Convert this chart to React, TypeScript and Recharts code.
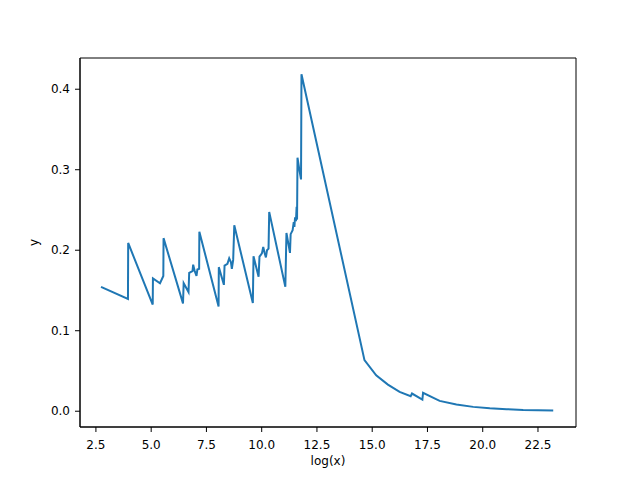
import React from 'react';
import { LineChart, Line, XAxis, YAxis, ReferenceArea } from 'recharts';

// values
const logX = [
  2.73, 3.95, 3.96, 5.07, 5.08, 5.40, 5.55, 5.56, 6.44, 6.47, 6.69, 6.72, 6.87, 6.90, 6.96, 7.05, 7.09, 7.17, 7.18,
  8.05, 8.06, 8.29, 8.32, 8.45, 8.53, 8.61, 8.65, 8.71, 8.76,
  9.60, 9.63, 9.86, 9.90, 10.01, 10.07, 10.13, 10.19, 10.24, 10.31, 10.34,
  11.07, 11.12, 11.28, 11.31, 11.40, 11.45, 11.48, 11.51, 11.55, 11.58, 11.60, 11.62, 11.71, 11.78, 11.80,
  14.65, 15.18, 15.71, 16.24, 16.74, 16.80, 17.27, 17.30, 18.05, 18.81, 19.57, 20.32, 21.08, 21.83, 23.19,
];
const yValues = [
  0.1544, 0.1395, 0.209, 0.1325, 0.165, 0.159, 0.168, 0.215, 0.134, 0.159, 0.148, 0.172, 0.174, 0.182, 0.175, 0.168, 0.176, 0.177, 0.223,
  0.130, 0.179, 0.157, 0.181, 0.183, 0.190, 0.185, 0.177, 0.188, 0.231,
  0.1345, 0.1925, 0.167, 0.192, 0.196, 0.204, 0.197, 0.191, 0.200, 0.202, 0.2476,
  0.1545, 0.2215, 0.1967, 0.220, 0.225, 0.235, 0.229, 0.241, 0.236, 0.254, 0.238, 0.315, 0.299, 0.288, 0.4186,
  0.0634, 0.0447, 0.0331, 0.024, 0.0186, 0.022, 0.0145, 0.0228, 0.0128, 0.0083, 0.0054, 0.0037, 0.0025, 0.0016, 0.0008,
];
const xTicks = [2.5, 5, 7.5, 10, 12.5, 15, 17.5, 20, 22.5];
const yTicks = [0, 0.1, 0.2, 0.3, 0.4];

const data = logX.map((x, i) => ({ x, y: yValues[i] }));

const xDomain: [number, number] = [1.78, 24.22];
const yDomain: [number, number] = [-0.0196, 0.4388];

const font = { fill: '#000', fontSize: 12, fontFamily: 'DejaVu Sans' };

export default function App() {
  return (
    <div style={{ position: 'absolute', left: 0, top: 0, background: '#fff', fontFamily: 'DejaVu Sans' }}>
      <LineChart width={640} height={480} data={data} margin={{ top: 58, right: 64, bottom: 0, left: 30 }}>
        <XAxis
          dataKey="x"
          type="number"
          domain={xDomain}
          ticks={xTicks}
          allowDataOverflow
          tickFormatter={(v: number) => v.toFixed(1)}
          tick={font}
          tickSize={5}
          tickMargin={8}
          stroke="#000"
          height={53}
          label={{ value: 'log(x)', position: 'insideBottom', offset: 15, ...font }}
        />
        <YAxis
          type="number"
          domain={yDomain}
          ticks={yTicks}
          allowDataOverflow
          tickFormatter={(v: number) => v.toFixed(1)}
          tick={font}
          tickSize={5}
          tickMargin={5}
          stroke="#000"
          width={50}
          label={{ value: 'y', angle: -90, position: 'insideLeft', offset: 0, dx: 4, textAnchor: 'middle', ...font }}
        />
        <ReferenceArea x1={xDomain[0]} x2={xDomain[1]} y1={yDomain[0]} y2={yDomain[1]} fill="none" stroke="#000" strokeWidth={1} />
        <Line type="linear" dataKey="y" stroke="#1f77b4" strokeWidth={2} dot={false} isAnimationActive={false} />
      </LineChart>
    </div>
  );
}
